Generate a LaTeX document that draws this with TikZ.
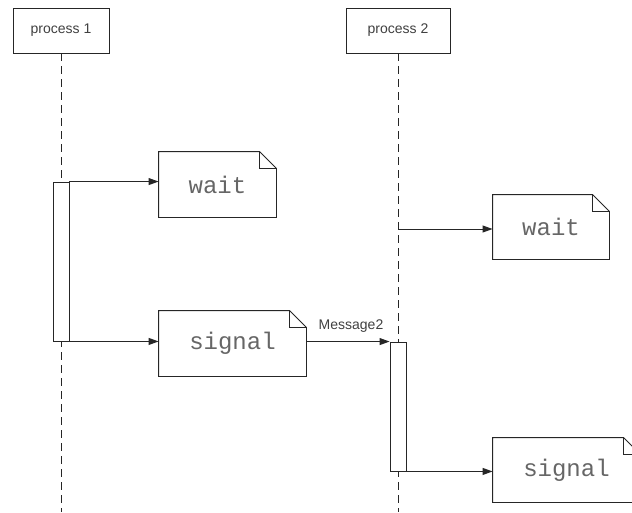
\documentclass[tikz,border=0pt]{standalone}
\usepackage{fontspec}
\setmainfont{Liberation Sans}
\setmonofont{Liberation Mono}
\usepackage{xcolor}
\usepackage{tikz}
\usetikzlibrary{arrows.meta}

\begin{document}
\begin{tikzpicture}[
        x=1pt, y=-1pt,
        line width=0.9pt, draw=black!85,
        >={Triangle[length=10pt,width=7pt]},
        proc/.style={rectangle, draw, fill=white, minimum height=45pt, font=\fontsize{14}{14}\selectfont, text=black!75},
        bar/.style={rectangle, draw, fill=white, minimum width=16pt, inner sep=0pt},
        note/.style={rectangle, minimum height=65pt, inner sep=0pt, font=\ttfamily\fontsize{24}{24}\selectfont, text=black!60},
        life/.style={dash pattern=on 8pt off 5pt}
    ]
    \useasboundingbox (0,0) rectangle (632,512);

    % lifelines
    \node[proc, minimum width=96pt] (proc1) at (61,30.5) {process 1};
    \node[proc, minimum width=104pt] (proc2) at (398,30.5) {process 2};
    \coordinate (end1) at (61,512);
    \coordinate (end2) at (398,512);
    \draw[life] (proc1.south) -- (end1);
    \draw[life] (proc2.south) -- (end2);

    % activations
    \node[bar, minimum height=159pt] (bar1) at (61,261.5) {};
    \node[bar, minimum height=129pt] (bar2) at (398,406.5) {};

    % notes
    \node[note, minimum width=117pt] (waitA) at (217.5,184.5) {wait};
    \node[note, minimum width=147pt] (signalA) at (232.5,343.5) {signal};
    \node[note, minimum width=116pt, minimum height=64pt] (waitB) at (551,227) {wait};
    \node[note, minimum width=147pt, minimum height=64pt] (signalB) at (566.5,470) {signal};
    \foreach \n in {waitA, signalA, waitB, signalB} {
        \draw (\n.north west) -- ([xshift=-17pt]\n.north east) -- ([yshift=-17pt]\n.north east)
            -- (\n.south east) -- (\n.south west) -- cycle;
        \draw ([xshift=-17pt]\n.north east) |- ([yshift=-17pt]\n.north east);
    }

    % messages
    \coordinate (hook2) at (398,229);
    \draw[->] (bar1.north east) -- (waitA.west |- bar1.north east);
    \draw[->] (bar1.south east) -- (signalA.west |- bar1.south east);
    \draw[->] (signalA.east |- bar2.north west) -- node[above=5pt, xshift=3pt, font=\fontsize{14}{14}\selectfont, text=black!75] {Message2} (bar2.north west);
    \draw[->] (hook2) -- (waitB.west |- hook2);
    \draw[->] (bar2.south east) -- (signalB.west |- bar2.south east);
\end{tikzpicture}
\end{document}
